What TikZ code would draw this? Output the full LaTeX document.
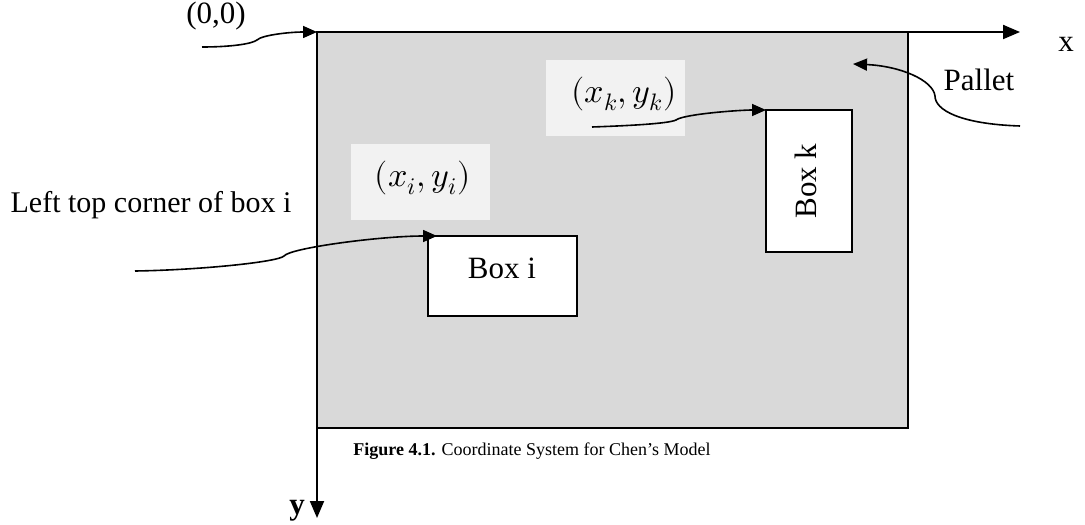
\documentclass[tikz,border=0pt]{standalone}
\usepackage{fontspec}
\usepackage{unicode-math}
\setmainfont{Liberation Serif}
\setmathfont{Latin Modern Math}
\usetikzlibrary{arrows.meta}
\definecolor{palletgray}{HTML}{D9D9D9}
\definecolor{labelgray}{HTML}{F2F2F2}
\begin{document}
\begin{tikzpicture}[x=0.5pt,y=-0.5pt,
  txt/.style={inner sep=0pt,font=\fontsize{15.5}{18}\selectfont},
  mathlbl/.style={inner sep=0pt,font=\fontsize{17}{20}\selectfont},
  axis/.style={line width=1pt,-{Triangle[length=8.5pt,width=7pt]}},
  pointer/.style={line width=0.8pt,-{Triangle[length=7pt,width=6pt]}},
  boxshape/.style={draw,line width=0.8pt,fill=white}]
\useasboundingbox (0,0) rectangle (1085,524);

% pallet area
\filldraw[fill=palletgray,line width=1pt] (317,32) rectangle (908,428);
\coordinate (origin) at (317,32);

% axes
\draw[axis] (origin) -- (1020,32) coordinate (xend);
\draw[axis] (origin) -- (317,518) coordinate (yend);
\node[txt,anchor=center] (xlbl) at (1066,44) {x};
\node[txt,anchor=center,font=\fontsize{15.5}{18}\selectfont\bfseries] (ylbl) at (297,511) {y};

% coordinate labels on light backgrounds
\fill[labelgray] (351,144) rectangle (490,220);
\fill[labelgray] (546,60) rectangle (685,136);
\node[mathlbl] (xi) at (423,178) {$(x_i,y_i)$};
\node[mathlbl] (xk) at (624,94) {$(x_k,y_k)$};

% boxes
\draw[boxshape] (428,236) rectangle (577,316);
\node[txt] (boxi) at (502,268) {Box i};
\draw[boxshape] (766,110) rectangle (852,252);
\node[txt,rotate=90] (boxk) at (806,181) {Box k};
\coordinate (boxicorner) at (437,236);
\coordinate (boxkcorner) at (766,110);

% text labels
\node[txt] (orig) at (216,16) {(0,0)};
\node[txt] (pallet) at (979,80) {Pallet};
\node[txt,font=\fontsize{15}{18}\selectfont] (corner) at (151,205) {Left top corner of box i};
\node[txt,anchor=base west,font=\fontsize{9}{11}\selectfont] (cap) at (353,455)
  {\textbf{Figure 4.1.} Coordinate System for Chen's Model};

% free ends of the pointers
\coordinate (o0) at (202,47);
\coordinate (c0) at (135,271);
\coordinate (k0) at (592,127);
\coordinate (p0) at (1020,126);
\coordinate (ptip) at (853,64);

% pointers
\draw[pointer] (o0) .. controls (230,47) and (252,44) .. (257,40)
  .. controls (262,35) and (290,32) .. (origin);
\draw[pointer] (c0) .. controls (200,270) and (278,262) .. (284,256)
  .. controls (290,248) and (380,236) .. (boxicorner);
\draw[pointer] (k0) .. controls (620,126) and (668,124) .. (676,120)
  .. controls (684,114) and (740,110) .. (boxkcorner);
\draw[pointer] (p0) .. controls (960,124) and (935,110) .. (935,96)
  .. controls (933,80) and (900,66) .. (ptip);
\end{tikzpicture}
\end{document}
